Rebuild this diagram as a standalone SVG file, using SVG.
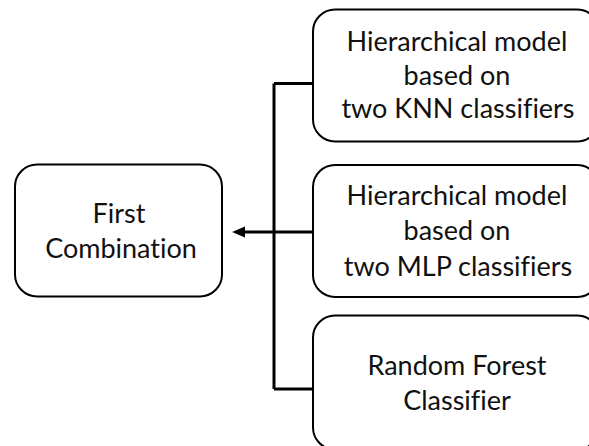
<svg xmlns="http://www.w3.org/2000/svg" width="589" height="446" viewBox="0 0 589 446">
  <style>
    .box { fill: #ffffff; stroke: #000000; stroke-width: 2; }
    .label { font-family: "Lato", "Open Sans", sans-serif; font-size: 27px; fill: #111111; text-anchor: middle; font-variant-ligatures: none; }
    .wire { fill: none; stroke: #000000; stroke-width: 3; }
    .head { fill: #000000; }
  </style>
  <rect width="589" height="446" fill="#ffffff"/>

  <g id="connectors">
    <path class="wire" d="M274,83.5 V389"/>
    <path class="wire" d="M274,83.5 H313"/>
    <path class="wire" d="M274,389 H313"/>
    <path class="wire" d="M313,232 H242"/>
    <polygon class="head" points="232,232 245,226.5 245,237.5"/>
  </g>

  <g id="first-combination">
    <rect class="box" x="15" y="164.5" width="207" height="132" rx="22"/>
    <text class="label" x="119" y="223">First</text>
    <text class="label" x="121" y="258">Combination</text>
  </g>

  <g id="knn-model">
    <rect class="box" x="313" y="9.5" width="286" height="132" rx="22"/>
    <text class="label" x="457" y="51">Hierarchical model</text>
    <text class="label" x="457" y="85">based on</text>
    <text class="label" x="458" y="118">two KNN classifiers</text>
  </g>

  <g id="mlp-model">
    <rect class="box" x="313" y="165" width="286" height="132" rx="22"/>
    <text class="label" x="457" y="205">Hierarchical model</text>
    <text class="label" x="457" y="240">based on</text>
    <text class="label" x="458" y="276">two MLP classifiers</text>
  </g>

  <g id="random-forest">
    <rect class="box" x="313" y="315.5" width="286" height="134" rx="22"/>
    <text class="label" x="457" y="375">Random Forest</text>
    <text class="label" x="457" y="410">Classifier</text>
  </g>
</svg>
